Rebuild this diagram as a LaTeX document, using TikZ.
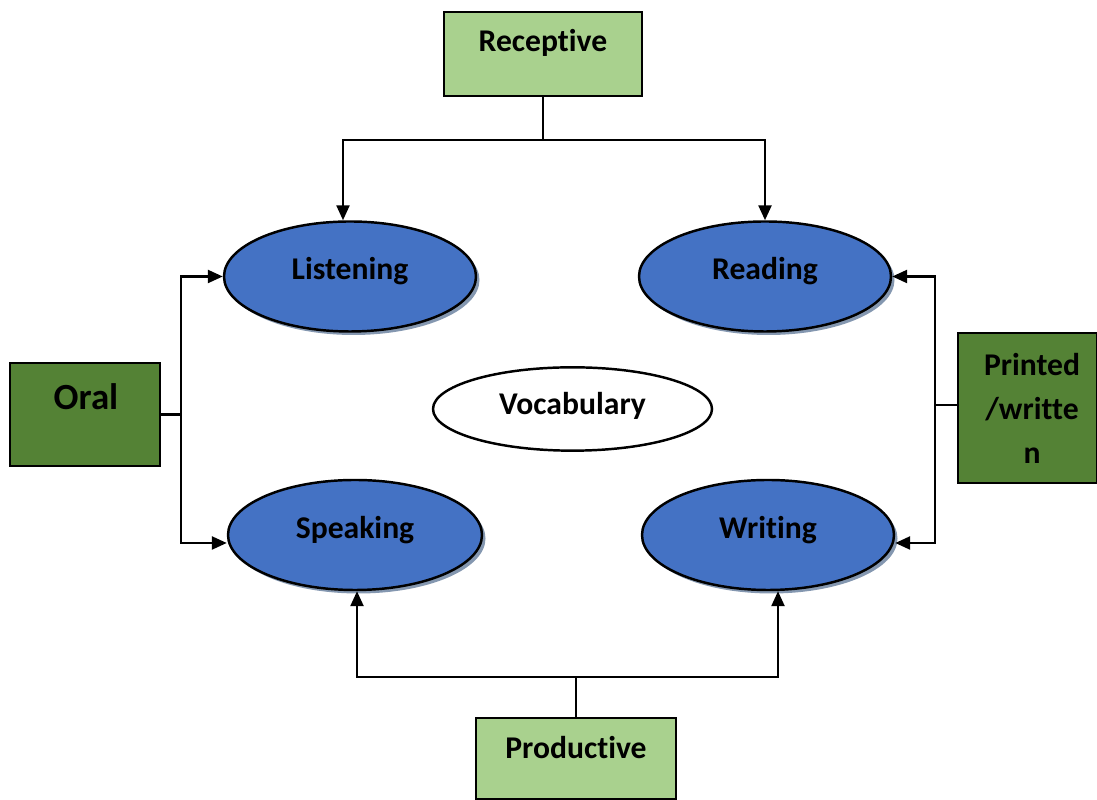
\documentclass[tikz,border=0pt]{standalone}
\usepackage{fontspec}
\setmainfont{Carlito}[Ligatures=NoCommon]
\usepackage{tikz}
\usetikzlibrary{shapes.geometric, shadows, arrows.meta}

\definecolor{skillblue}{HTML}{4472C4}
\definecolor{lightgreen}{HTML}{A9D18E}
\definecolor{darkgreen}{HTML}{548235}
\definecolor{shadowgrey}{HTML}{8497B0}

\begin{document}
\begin{tikzpicture}[
    font=\fontsize{9}{12.5}\selectfont\bfseries,
    line width=0.7pt,
    skill/.style={ellipse, draw, fill=skillblue, minimum width=2.52cm, minimum height=1.10cm,
        text height=6.5pt, text depth=4.6pt,
        drop shadow={shadow xshift=0.035cm, shadow yshift=-0.035cm, fill=shadowgrey, opacity=1}},
    lightbox/.style={rectangle, draw, fill=lightgreen, minimum width=1.98cm, minimum height=0.84cm},
    darkbox/.style={rectangle, draw, fill=darkgreen},
    arr/.style={-{Triangle[length=0.15cm, width=0.13cm]}}
]
\useasboundingbox (0,0) rectangle (10.97,8);

% the four skills and the centre
\node[skill] (listen) at (3.50,5.235) {Listening};
\node[skill] (read)   at (7.65,5.235) {Reading};
\node[skill, minimum width=2.54cm] (speak) at (3.55,2.65) {Speaking};
\node[skill] (write)  at (7.68,2.65) {Writing};
\node[ellipse, draw, fill=white, minimum width=2.79cm, minimum height=0.82cm,
      text height=6.5pt, text depth=3.6pt] (vocab) at (5.725,3.91) {Vocabulary};

% boxes around
\node[lightbox] (rec) at (5.43,7.46) {};
\node at (5.43,7.57) {Receptive};
\node[lightbox, minimum width=2.00cm, minimum height=0.81cm] (prod) at (5.76,0.415) {};
\node at (5.76,0.52) {Productive};
\node[darkbox, minimum width=1.50cm, minimum height=1.03cm] (oral) at (0.85,3.855) {};
\node[font=\fontsize{10.5}{12}\selectfont\bfseries] at (0.86,4.03) {Oral};
\node[darkbox, minimum width=1.39cm, minimum height=1.50cm] (print) at (10.275,3.92) {};
\node[align=center] at (10.32,3.92) {Printed\\/writte\\n};

% joints
\coordinate (rj) at ([yshift=-0.43cm]rec.south);
\coordinate (oj) at (1.81,3.855);
\coordinate (pj) at (9.35,3.95);
\coordinate (dj) at (5.76,1.23);

% connectors
\draw (rec.south) -- (rj);
\draw[arr] (rj) -| ([xshift=-0.07cm]listen.north);
\draw[arr] (rj) -| (read.north);
\draw (oral.east) -- (oj);
\draw[arr] (oj) |- (listen.west);
\draw[arr] (oj) |- ([yshift=-0.08cm]speak.west);
\draw (print.west |- pj) -- (pj);
\draw[arr] (pj) |- (read.east);
\draw[arr] (pj) |- ([yshift=-0.08cm]write.east);
\draw (prod.north) -- (dj);
\draw[arr] (dj) -| ([xshift=0.02cm]speak.south);
\draw[arr] (dj) -| ([xshift=0.10cm]write.south);
\end{tikzpicture}
\end{document}
